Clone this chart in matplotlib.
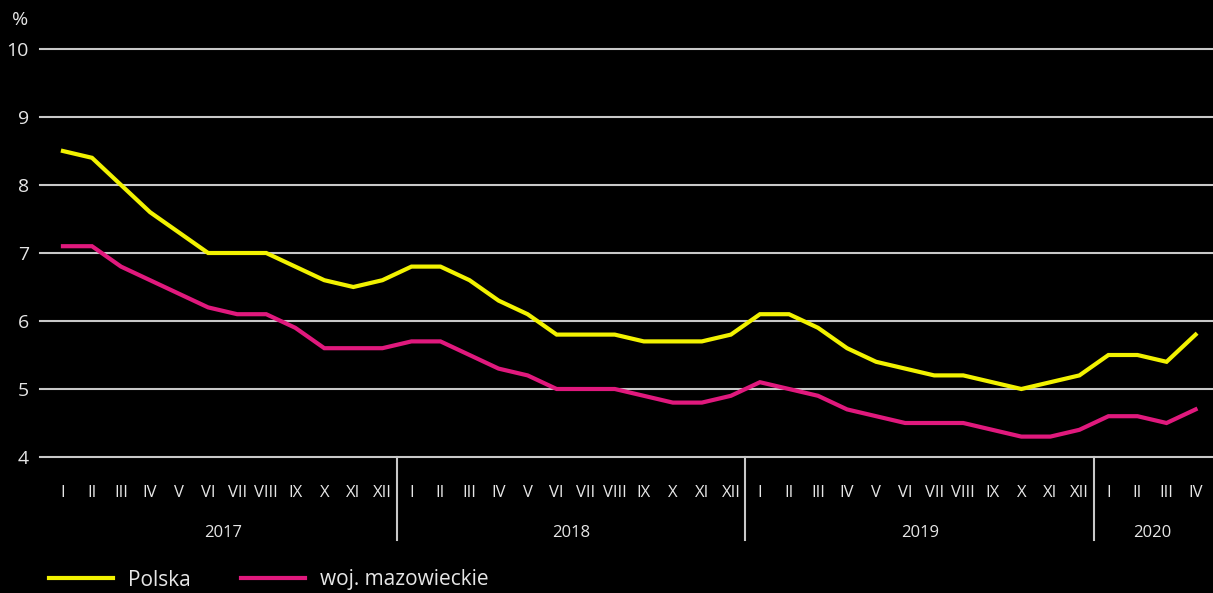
import numpy as np
import matplotlib.pyplot as plt
from matplotlib.lines import Line2D
from matplotlib.transforms import blended_transform_factory

plt.rcParams['font.family'] = ['Open Sans', 'DejaVu Sans']

months = ['I', 'II', 'III', 'IV', 'V', 'VI', 'VII', 'VIII', 'IX', 'X', 'XI', 'XII']
years = ['2017', '2018', '2019', '2020']
months_per_year = [12, 12, 12, 4]

polska = [8.5, 8.4, 8.0, 7.6, 7.3, 7.0, 7.0, 7.0, 6.8, 6.6, 6.5, 6.6,
          6.8, 6.8, 6.6, 6.3, 6.1, 5.8, 5.8, 5.8, 5.7, 5.7, 5.7, 5.8,
          6.1, 6.1, 5.9, 5.6, 5.4, 5.3, 5.2, 5.2, 5.1, 5.0, 5.1, 5.2,
          5.5, 5.5, 5.4, 5.8]
mazowieckie = [7.1, 7.1, 6.8, 6.6, 6.4, 6.2, 6.1, 6.1, 5.9, 5.6, 5.6, 5.6,
               5.7, 5.7, 5.5, 5.3, 5.2, 5.0, 5.0, 5.0, 4.9, 4.8, 4.8, 4.9,
               5.1, 5.0, 4.9, 4.7, 4.6, 4.5, 4.5, 4.5, 4.4, 4.3, 4.3, 4.4,
               4.6, 4.6, 4.5, 4.7]

YELLOW = '#f2f200'
MAGENTA = '#e0197d'
GRID = '#c8c8c8'
TEXT = '#e6e6e6'

fig = plt.figure(figsize=(12.13, 5.93), dpi=100, facecolor='black')
ax = fig.add_axes([40 / 1213, 1 - 457 / 593, 1 - 40 / 1213, 408 / 593])
ax.set_facecolor('black')

x = np.arange(len(polska))
ax.plot(x, polska, color=YELLOW, lw=3, solid_joinstyle='miter', zorder=3)
ax.plot(x, mazowieckie, color=MAGENTA, lw=3, solid_joinstyle='miter', zorder=3)

ax.set_xlim(-0.79, 39.6)
ax.set_ylim(4, 10)
ax.set_yticks(range(4, 11))
ax.yaxis.grid(True, color=GRID, lw=1.5, clip_on=False)
ax.set_axisbelow(True)
for s in ax.spines.values():
    s.set_visible(False)

labels = []
for n in months_per_year:
    labels += months[:n]
ax.set_xticks(x)
ax.set_xticklabels(labels)
ax.tick_params(axis='x', length=0, pad=20, labelsize=12, colors=TEXT)
ax.tick_params(axis='y', length=0, pad=8, labelsize=14, colors=TEXT)

# year separators and labels
trans = blended_transform_factory(ax.transData, ax.transAxes)
start = 0
for yr, n in zip(years, months_per_year):
    ax.text(start + (n - 1) / 2, -0.186, yr, transform=trans, ha='center',
            va='center', color=TEXT, fontsize=12)
    start += n
    if start < len(polska):
        ax.plot([start - 0.5, start - 0.5], [0, -0.203], transform=trans,
                color=GRID, lw=1.5, clip_on=False)

fig.text(20 / 1213, 1 - 20 / 593, '%', color=TEXT, fontsize=14,
         ha='center', va='center')

handles = [Line2D([], [], color=YELLOW, lw=3),
           Line2D([], [], color=MAGENTA, lw=3)]
fig.legend(handles, ['Polska', 'woj. mazowieckie'], loc='center left',
           bbox_to_anchor=(30 / 1213, 1 - 580 / 593), ncol=2, frameon=False,
           handlelength=3.1, handletextpad=0.7, columnspacing=2.4,
           fontsize=15, labelcolor=TEXT)

fig.savefig('out.png', dpi=100, facecolor='black')
